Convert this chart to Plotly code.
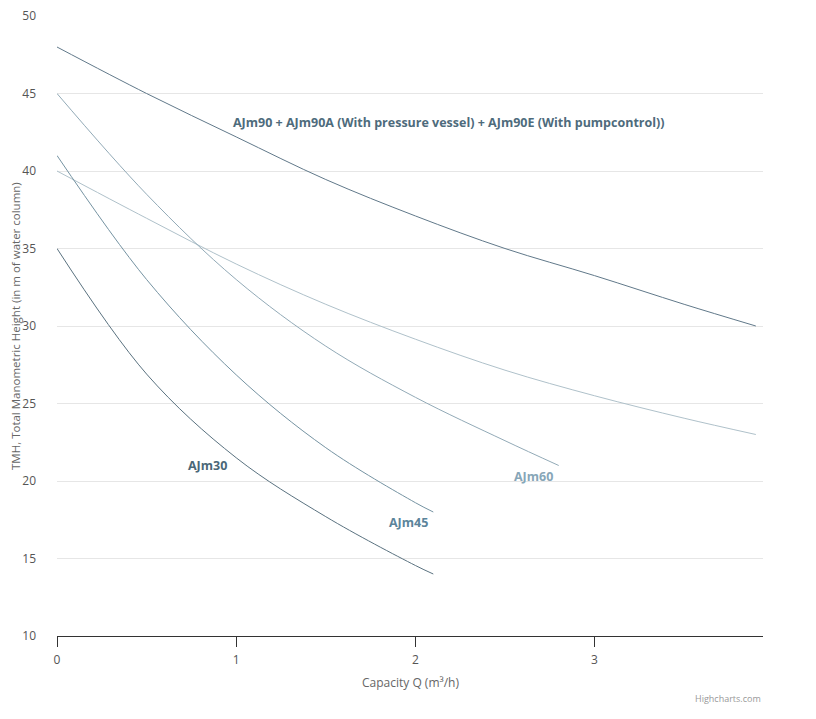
import plotly.graph_objects as go

# pump curves: capacity Q (m3/h) vs total manometric height (m)
q_ajm90 = [0, 0.5, 1, 1.5, 2, 2.5, 3, 3.5, 3.9]
h_ajm90 = [48, 45.0, 42.2, 39.45, 37.1, 35.0, 33.25, 31.4, 30]

q_ajm90b = [0, 0.5, 1, 1.5, 2, 2.5, 3, 3.5, 3.9]
h_ajm90b = [40, 36.95, 34.0, 31.4, 29.15, 27.15, 25.5, 24.05, 23]

q_ajm60 = [0, 0.5, 1, 1.5, 2, 2.5, 2.8]
h_ajm60 = [45, 38.5, 33.0, 28.7, 25.4, 22.6, 21]

q_ajm45 = [0, 0.5, 1, 1.5, 2, 2.1]
h_ajm45 = [41, 33.0, 26.85, 22.15, 18.6, 18]

q_ajm30 = [0, 0.5, 1, 1.5, 2, 2.1]
h_ajm30 = [35, 26.9, 21.5, 17.7, 14.55, 14]

x_ticks = [0, 1, 2, 3]
y_ticks = [10, 15, 20, 25, 30, 35, 40, 45, 50]

FONT = "Open Sans"

fig = go.Figure()

series = [
    (q_ajm90, h_ajm90, "#61798a"),
    (q_ajm90b, h_ajm90b, "#afc1ca"),
    (q_ajm60, h_ajm60, "#92aab7"),
    (q_ajm45, h_ajm45, "#7593a2"),
    (q_ajm30, h_ajm30, "#5a7280"),
]
for xs, ys, col in series:
    fig.add_trace(go.Scatter(
        x=xs, y=ys, mode="lines",
        line=dict(color=col, width=1, shape="spline", smoothing=1.0),
        hoverinfo="x+y", showlegend=False,
    ))

labels = [
    (2.19, 43.16, "AJm90 + AJm90A (With pressure vessel) + AJm90E (With pumpcontrol))", "#4e6b7c"),
    (0.842, 21.03, "AJm30", "#4a6778"),
    (1.96, 17.35, "AJm45", "#5b849b"),
    (2.66, 20.3, "AJm60", "#87a6b8"),
]
for x, y, txt, col in labels:
    fig.add_annotation(
        x=x, y=y, text="<b>%s</b>" % txt, showarrow=False,
        font=dict(family=FONT, size=12.5, color=col),
    )

# axis titles and credit placed by hand around the plot area
fig.add_annotation(
    xref="paper", yref="paper", x=0.5, y=-0.0742, yanchor="middle",
    text="Capacity Q (m³/h)", showarrow=False,
    font=dict(family=FONT, size=12, color="#666666"),
)
fig.add_annotation(
    xref="paper", yref="paper", x=-0.0595, y=0.5, xanchor="center",
    text="TMH, Total Manometric Height (in m of water column)", textangle=-90,
    showarrow=False, font=dict(family=FONT, size=11.5, color="#666666"),
)
fig.add_annotation(
    xref="paper", yref="paper", x=1, y=-0.1, xanchor="right", yanchor="middle",
    text="Highcharts.com", showarrow=False,
    font=dict(family=FONT, size=9, color="#999999"),
)

fig.update_layout(
    width=800, height=703,
    margin=dict(l=49, r=45, t=8, b=75),
    paper_bgcolor="white", plot_bgcolor="white",
    font=dict(family=FONT, size=12, color="#666666"),
    xaxis=dict(
        range=[0, 3.94], tickvals=x_ticks, showgrid=False, zeroline=False,
        showline=True, linecolor="#333333", linewidth=1,
        ticks="outside", ticklen=10, tickcolor="#333333",
        tickfont=dict(size=12, color="#555555"), ticklabelstandoff=3,
        automargin=False,
    ),
    yaxis=dict(
        range=[10, 50], tickvals=y_ticks, showgrid=True, gridcolor="#e6e6e6",
        zeroline=False, showline=False, ticks="",
        tickfont=dict(size=12, color="#555555"), ticklabelstandoff=20,
        ticklabeloverflow="allow", automargin=False,
    ),
)

fig.write_html("out.html")
